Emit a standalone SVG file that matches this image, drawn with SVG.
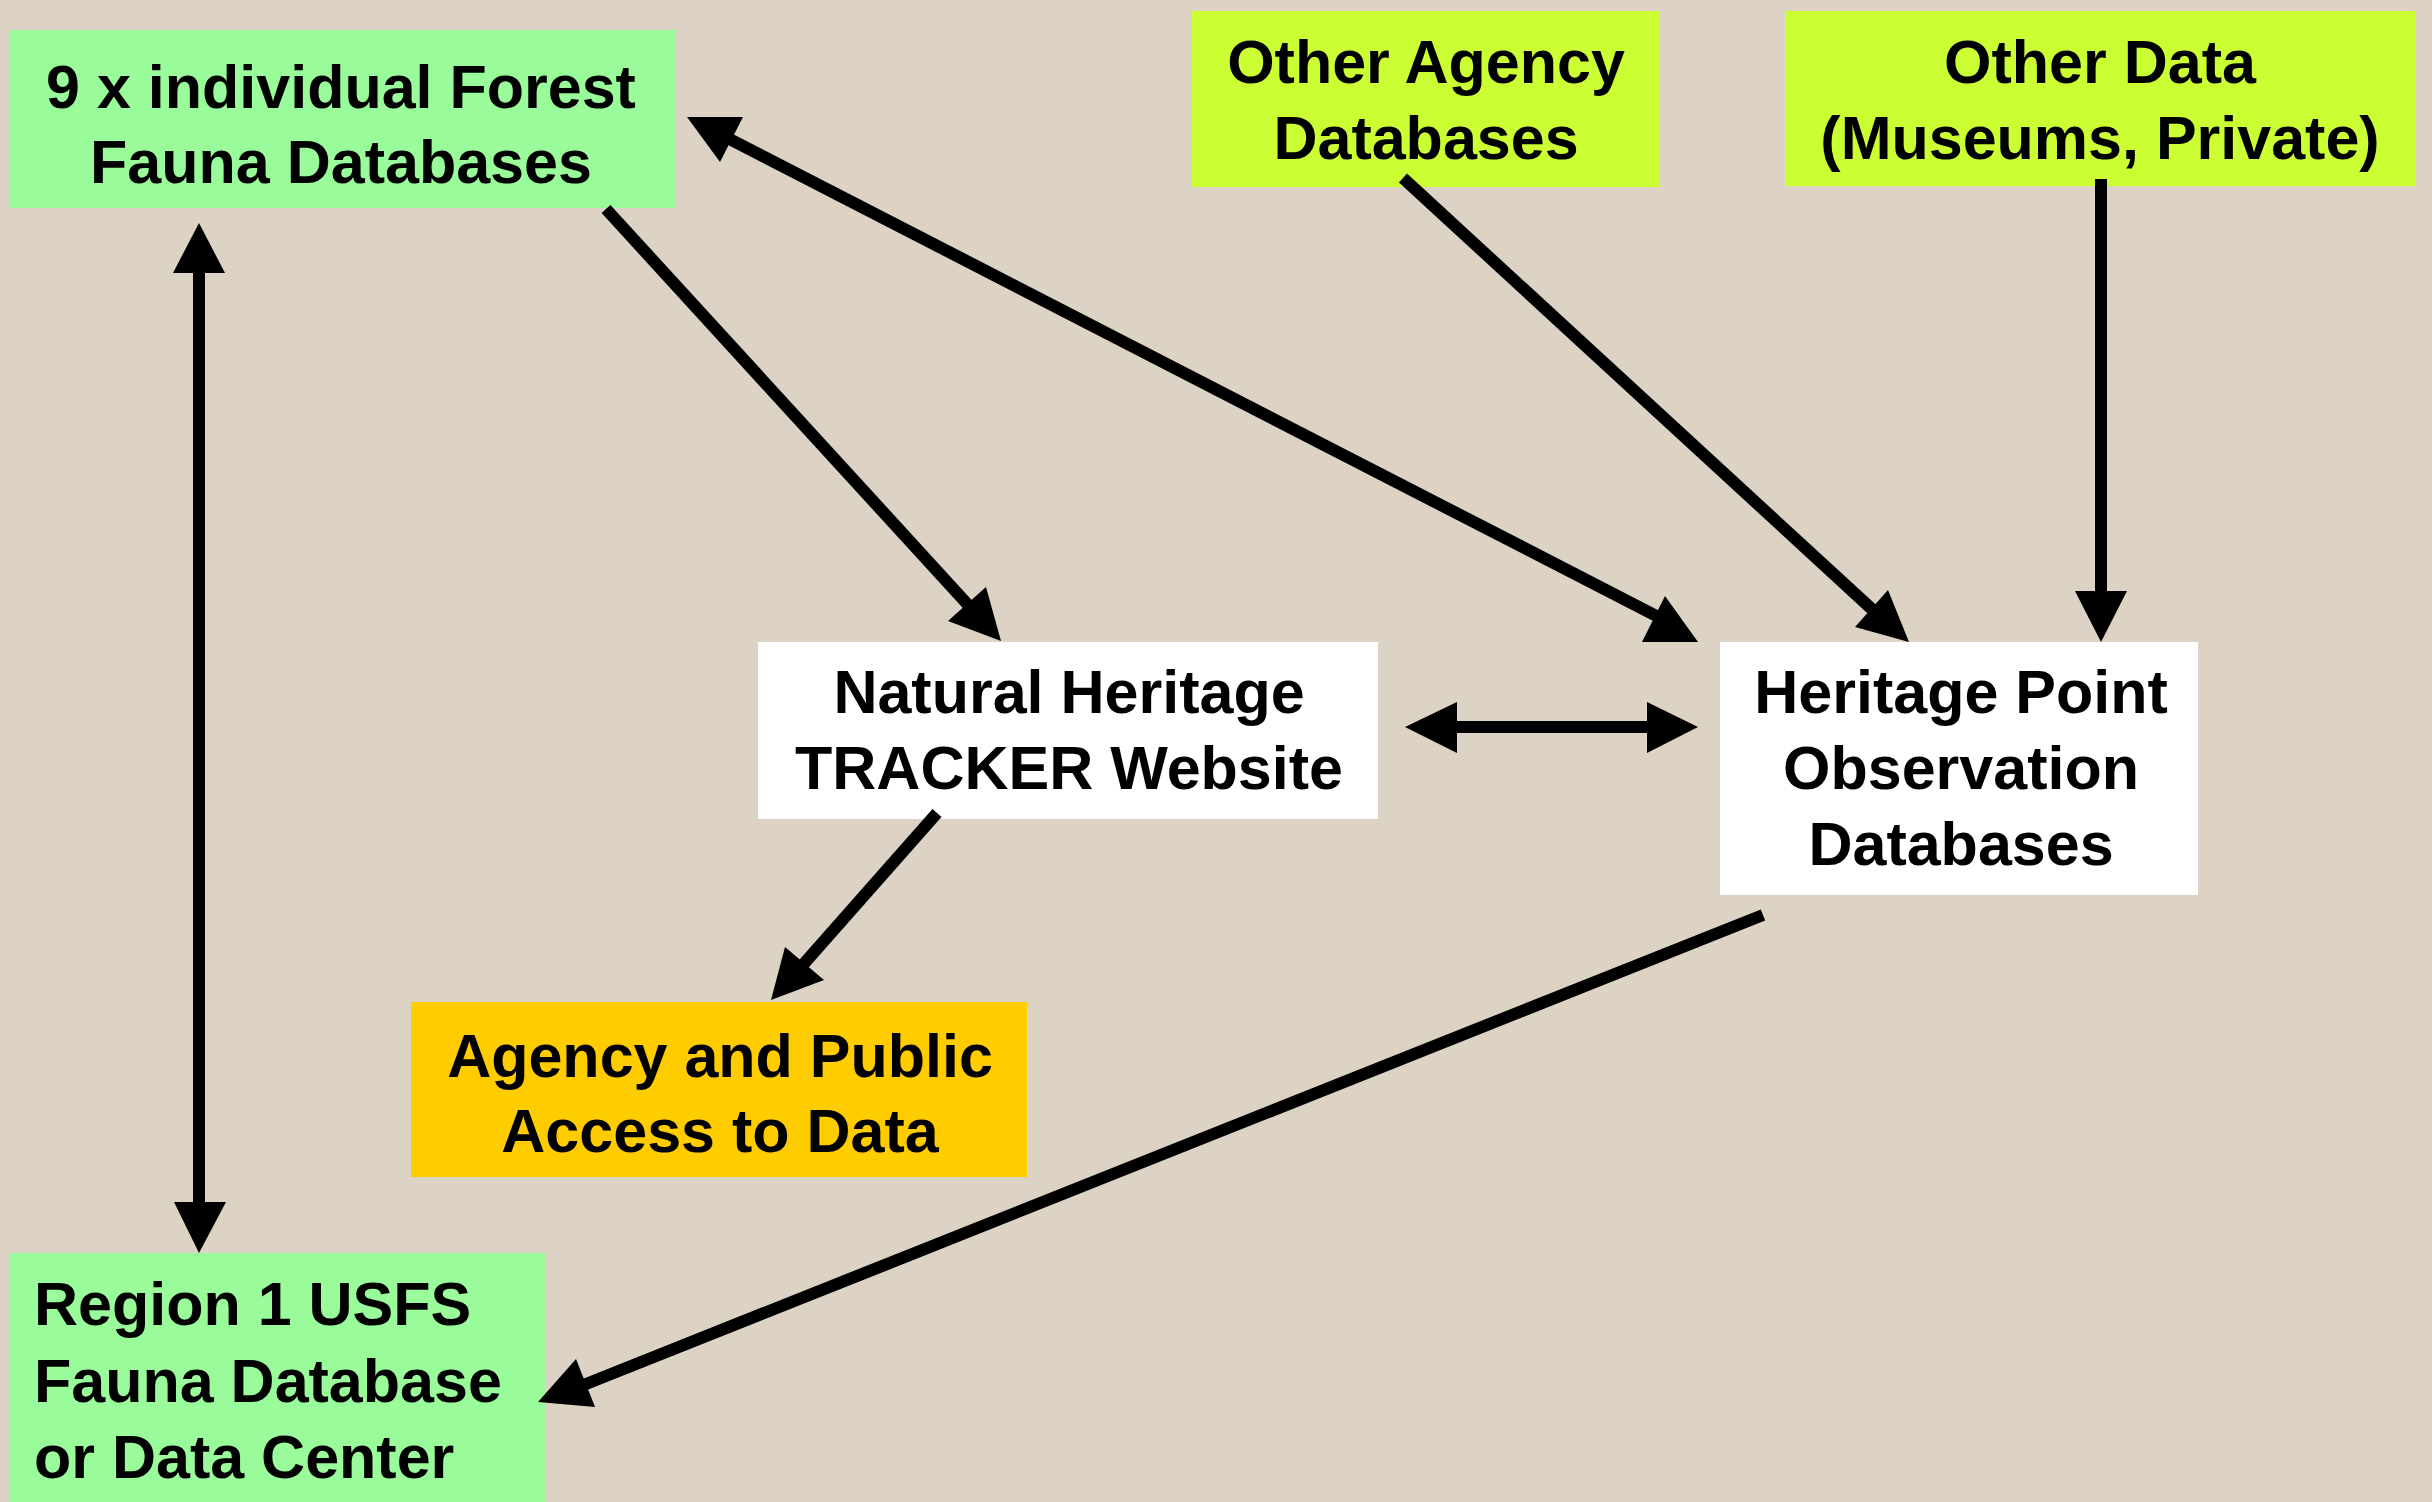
<svg xmlns="http://www.w3.org/2000/svg" width="2432" height="1502" viewBox="0 0 2432 1502">
  <style>
    .lbl { font-family: "Liberation Sans", Arial, sans-serif; font-weight: bold; font-size: 61px; fill: #000; }
    .c { text-anchor: middle; }
    .ln { stroke: #000; stroke-width: 12; fill: none; }
    .hd { fill: #000; stroke: none; }
    .green { fill: #99fb99; }
    .lime { fill: #ccff33; }
    .white { fill: #ffffff; }
    .orange { fill: #ffcc00; }
  </style>
  <rect x="0" y="0" width="2432" height="1502" fill="#ddd3c4"/>

  <g id="node-forest-fauna">
    <rect class="green" x="10" y="30" width="665" height="178"/>
    <text class="lbl c" x="341" y="108">9 x individual Forest</text>
    <text class="lbl c" x="341" y="183">Fauna Databases</text>
  </g>

  <g id="node-other-agency">
    <rect class="lime" x="1192" y="11" width="467" height="176"/>
    <text class="lbl c" x="1426" y="83">Other Agency</text>
    <text class="lbl c" x="1426" y="159">Databases</text>
  </g>

  <g id="node-other-data">
    <rect class="lime" x="1785" y="11" width="630" height="175"/>
    <text class="lbl c" x="2100" y="83">Other Data</text>
    <text class="lbl c" x="2100" y="159">(Museums, Private)</text>
  </g>

  <g id="node-tracker">
    <rect class="white" x="758" y="642" width="620" height="177"/>
    <text class="lbl c" x="1069" y="713">Natural Heritage</text>
    <text class="lbl c" x="1069" y="789">TRACKER Website</text>
  </g>

  <g id="node-heritage-point">
    <rect class="white" x="1720" y="642" width="478" height="253"/>
    <text class="lbl c" x="1961" y="713">Heritage Point</text>
    <text class="lbl c" x="1961" y="789">Observation</text>
    <text class="lbl c" x="1961" y="865">Databases</text>
  </g>

  <g id="node-public-access">
    <rect class="orange" x="411" y="1002" width="616" height="175"/>
    <text class="lbl c" x="720" y="1077">Agency and Public</text>
    <text class="lbl c" x="720" y="1152">Access to Data</text>
  </g>

  <g id="node-region1">
    <rect class="green" x="10" y="1253" width="536" height="260"/>
    <text class="lbl" x="34" y="1325">Region 1 USFS</text>
    <text class="lbl" x="34" y="1402">Fauna Database</text>
    <text class="lbl" x="34" y="1478">or Data Center</text>
  </g>

  <g id="connectors">
    <!-- Forest fauna <-> Region 1 -->
    <line class="ln" x1="199" y1="268" x2="199" y2="1207"/>
    <polygon class="hd" points="199,223 173,273 225,273"/>
    <polygon class="hd" points="199,1253 174,1202 226,1202"/>

    <!-- Forest fauna <-> Heritage Point -->
    <line class="ln" x1="712" y1="130" x2="1672" y2="624"/>
    <polygon class="hd" points="687,117 743,117 720,162"/>
    <polygon class="hd" points="1698,642 1642,642 1665,596"/>

    <!-- Forest fauna -> Tracker -->
    <line class="ln" x1="606" y1="209" x2="970" y2="607"/>
    <polygon class="hd" points="1001,641 986,587 948,621"/>

    <!-- Other agency -> Heritage Point -->
    <line class="ln" x1="1403" y1="178" x2="1875" y2="612"/>
    <polygon class="hd" points="1909,642 1888,590 1855,627"/>

    <!-- Other data -> Heritage Point -->
    <line class="ln" x1="2101" y1="179" x2="2101" y2="595"/>
    <polygon class="hd" points="2101,642 2075,591 2127,591"/>

    <!-- Tracker <-> Heritage Point -->
    <line class="ln" x1="1452" y1="727" x2="1652" y2="727"/>
    <polygon class="hd" points="1405,727 1457,702 1457,753"/>
    <polygon class="hd" points="1698,727 1647,702 1647,753"/>

    <!-- Tracker -> Public access -->
    <line class="ln" x1="937" y1="813" x2="801" y2="967"/>
    <polygon class="hd" points="771,1000 785,947 824,980"/>

    <!-- Heritage Point -> Region 1 -->
    <line class="ln" x1="1763" y1="915" x2="581" y2="1386"/>
    <polygon class="hd" points="538,1402 576,1359 595,1407"/>
  </g>
</svg>
